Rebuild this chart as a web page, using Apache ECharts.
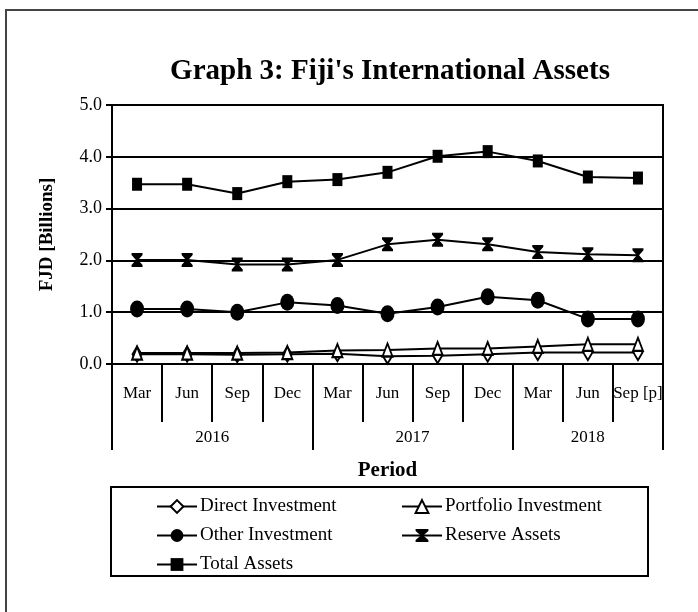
<!DOCTYPE html>
<html>
<head>
<meta charset="utf-8">
<script src="https://cdn.jsdelivr.net/npm/echarts@6/dist/echarts.min.js"></script>
<style>
  html, body { margin: 0; padding: 0; background: #fff; }
  #chart { width: 698px; height: 612px; }
</style>
</head>
<body>
<div id="chart"></div>
<script>
// quarters and year groups
const months = ["Mar", "Jun", "Sep", "Dec", "Mar", "Jun", "Sep", "Dec", "Mar", "Jun", "Sep [p]"];
const years = ["2016", "2017", "2018"];
const yearSpan = [4, 4, 3];

// FJD billions
const directInvestment = [0.19, 0.19, 0.18, 0.19, 0.20, 0.15, 0.16, 0.19, 0.22, 0.22, 0.22];
const portfolioInvestment = [0.21, 0.21, 0.21, 0.22, 0.26, 0.27, 0.30, 0.30, 0.34, 0.38, 0.38];
const otherInvestment = [1.06, 1.06, 1.00, 1.19, 1.13, 0.97, 1.10, 1.30, 1.23, 0.87, 0.87];
const reserveAssets = [2.01, 2.01, 1.92, 1.92, 2.01, 2.31, 2.40, 2.31, 2.16, 2.12, 2.10];
const totalAssets = [3.47, 3.47, 3.29, 3.52, 3.56, 3.70, 4.01, 4.10, 3.92, 3.61, 3.59];

const yTicks = ["0.0", "1.0", "2.0", "3.0", "4.0", "5.0"];

const font = "Liberation Serif";

// year axis: half-band points, labels at group centres, ticks at group edges
const yearSlots = [];
const yearEdges = [0];
const yearCentres = {};
let pos = 0;
years.forEach((y, i) => {
  yearCentres[pos + yearSpan[i]] = y;
  pos += yearSpan[i] * 2;
  yearEdges.push(pos);
});
for (let i = 0; i <= months.length * 2; i++) {
  yearSlots.push(yearCentres[i] || "");
}

function line(name, data, symbol, size, hollow) {
  return {
    name: name,
    type: "line",
    data: data,
    symbol: symbol,
    symbolSize: size,
    showAllSymbol: true,
    lineStyle: { color: "#000", width: 2 },
    itemStyle: {
      color: hollow ? "#fff" : "#000",
      borderColor: "#000",
      borderWidth: hollow ? 2 : 0
    },
    emphasis: { disabled: true },
    z: 3
  };
}

const chart = echarts.init(document.getElementById("chart"));
chart.setOption({
  animation: false,
  backgroundColor: "#fff",
  title: {
    text: "Graph 3: Fiji's International Assets",
    left: 385,
    top: 52,
    textAlign: "center",
    textStyle: { fontFamily: font, fontWeight: "bold", fontSize: 29, color: "#000" }
  },
  grid: {
    left: 112, right: 35, top: 105, bottom: 248,
    show: true, borderColor: "#000", borderWidth: 2
  },
  xAxis: [
    {
      type: "category",
      data: months,
      boundaryGap: true,
      axisLine: { lineStyle: { color: "#000", width: 2 } },
      axisTick: { show: true, length: 58, interval: 0, lineStyle: { color: "#000", width: 2 } },
      axisLabel: { interval: 0, margin: 21, fontFamily: font, fontSize: 17, color: "#000" },
      name: "Period",
      nameLocation: "middle",
      nameGap: 96,
      nameTextStyle: { fontFamily: font, fontWeight: "bold", fontSize: 21, color: "#000" }
    },
    {
      type: "category",
      data: yearSlots,
      position: "bottom",
      boundaryGap: false,
      axisLine: { show: false },
      axisTick: {
        show: true, length: 86,
        interval: (i) => yearEdges.indexOf(i) >= 0,
        lineStyle: { color: "#000", width: 2 }
      },
      axisLabel: {
        interval: (i, v) => v !== "",
        margin: 65, fontFamily: font, fontSize: 17, color: "#000"
      }
    }
  ],
  yAxis: {
    type: "value",
    min: 0, max: 5, interval: 1,
    axisLine: { show: true, lineStyle: { color: "#000", width: 2 } },
    axisTick: { show: true, length: 6, lineStyle: { color: "#000", width: 2 } },
    axisLabel: {
      margin: 10, fontFamily: font, fontSize: 18, color: "#000",
      formatter: (v) => yTicks[Math.round(v)]
    },
    splitLine: { show: true, lineStyle: { color: "#000", width: 2 } },
    name: "FJD [Billions]",
    nameLocation: "middle",
    nameGap: 55,
    nameTextStyle: { fontFamily: font, fontWeight: "bold", fontSize: 19, color: "#000" }
  },
  legend: [
    {
      orient: "vertical",
      left: 151, top: 492,
      itemWidth: 40, itemHeight: 16, itemGap: 10,
      data: ["Direct Investment", "Other Investment", "Total Assets"],
      textStyle: { fontFamily: font, fontSize: 19, color: "#000", padding: [0, 0, 0, -2] }
    },
    {
      orient: "vertical",
      left: 396, top: 492,
      itemWidth: 40, itemHeight: 16, itemGap: 10,
      data: ["Portfolio Investment", "Reserve Assets"],
      textStyle: { fontFamily: font, fontSize: 19, color: "#000", padding: [0, 0, 0, -2] }
    }
  ],
  graphic: [
    { type: "rect", shape: { x: 6, y: 10, width: 1000, height: 1000 }, style: { fill: null, stroke: "#444", lineWidth: 2 } },
    { type: "rect", shape: { x: 111, y: 487, width: 537, height: 89 }, style: { fill: null, stroke: "#000", lineWidth: 2 } }
  ],
  series: [
    line("Direct Investment", directInvestment, "diamond", [9, 15], true),
    line("Portfolio Investment", portfolioInvestment, "triangle", [10, 13], true),
    line("Other Investment", otherInvestment, "circle", [14, 17], false),
    line("Reserve Assets", reserveAssets, "path://M0,0 L10,0 L10,2 L6,7 L10,12 L10,14 L0,14 L0,12 L4,7 L0,2 Z", [11, 14], false),
    line("Total Assets", totalAssets, "rect", [10, 13], false)
  ]
});
</script>
</body>
</html>
